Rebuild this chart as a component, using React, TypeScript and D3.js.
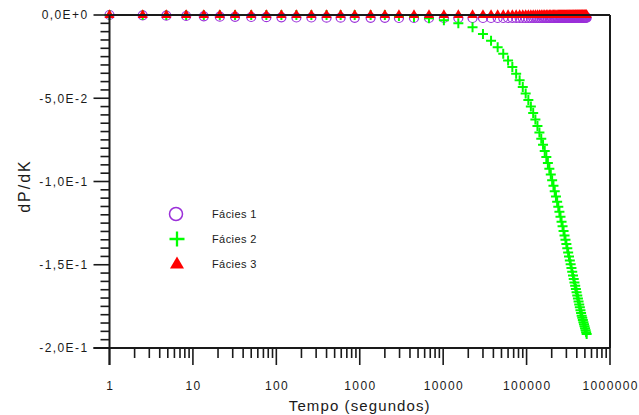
import React from "react";
import * as d3 from "d3";

// tempo (s)
const times = [
  1, 2.5, 4.8, 8.3, 13.5, 21, 32, 50, 76, 115,
  174, 263, 400, 590, 870, 1350, 2000, 2950, 4470, 6760,
  10200, 15200, 22500, 30000, 37500, 45000, 52500, 60000, 67500, 75000,
  82500, 90000, 97500, 105000, 112500, 120000, 127500, 135000, 142500, 150000,
  157500, 165000, 172500, 180000, 187500, 195000, 202500, 210000, 217500, 225000,
  232500, 240000, 247500, 255000, 262500, 270000, 277500, 285000, 292500, 300000,
  307500, 315000, 322500, 330000, 337500, 345000, 352500, 360000, 367500, 375000,
  382500, 390000, 397500, 405000, 412500, 420000, 427500, 435000, 442500, 450000,
  457500, 465000, 472500, 480000, 487500, 495000, 502500, 510000, 517500, 525000,
];

const facies1 = [
  0, -0.0002, -0.0004, -0.0006, -0.0008, -0.001, -0.0011, -0.0012, -0.0013, -0.0014,
  -0.0015, -0.0015, -0.0016, -0.0016, -0.0017, -0.0017, -0.0017, -0.0018, -0.0018, -0.0018,
  -0.0018, -0.0018, -0.0018, -0.0018, -0.0018, -0.0018, -0.0018, -0.0018, -0.0018, -0.0018,
  -0.0018, -0.0018, -0.0018, -0.0018, -0.0018, -0.0018, -0.0018, -0.0018, -0.0018, -0.0018,
  -0.0018, -0.0018, -0.0018, -0.0018, -0.0018, -0.0018, -0.0018, -0.0018, -0.0018, -0.0018,
  -0.0017, -0.0017, -0.0017, -0.0017, -0.0017, -0.0017, -0.0017, -0.0017, -0.0017, -0.0017,
  -0.0017, -0.0017, -0.0017, -0.0017, -0.0017, -0.0017, -0.0017, -0.0017, -0.0017, -0.0017,
  -0.0016, -0.0016, -0.0016, -0.0016, -0.0016, -0.0016, -0.0016, -0.0016, -0.0016, -0.0016,
  -0.0016, -0.0016, -0.0016, -0.0016, -0.0016, -0.0016, -0.0016, -0.0016, -0.0016, -0.0016,
];

const facies2 = [
  0, 0, 0, 0, 0, 0, 0, 0, 0, 0,
  0, 0, 0, 0, 0, 0, 0, -0.0006, -0.0012, -0.002,
  -0.0032, -0.005, -0.0074, -0.0114, -0.0154, -0.0193, -0.0233, -0.0273, -0.0313, -0.0353,
  -0.0392, -0.0432, -0.0472, -0.0511, -0.055, -0.0589, -0.0628, -0.0667, -0.0705, -0.0743,
  -0.078, -0.0817, -0.0853, -0.0889, -0.0924, -0.0958, -0.0992, -0.1025, -0.1058, -0.109,
  -0.1121, -0.1152, -0.1182, -0.1212, -0.1241, -0.1269, -0.1297, -0.1324, -0.135, -0.1376,
  -0.1401, -0.1426, -0.145, -0.1474, -0.1497, -0.152, -0.1542, -0.1564, -0.1585, -0.1606,
  -0.1626, -0.1646, -0.1665, -0.1684, -0.1703, -0.1721, -0.1739, -0.1756, -0.1773, -0.179,
  -0.1806, -0.1819, -0.1832, -0.1845, -0.1857, -0.1869, -0.1881, -0.1893, -0.1905, -0.1916,
];

const facies3 = [
  0, 0, 0, 0, 0, 0, 0, 0, 0, 0,
  0, 0, 0, 0, 0, 0, 0, 0, 0, 0,
  0, 0, 0, 0, 0, 0, 0, 0, 0, 0,
  0, 0, 0, 0, 0, 0, 0, 0, 0, 0,
  0, 0, 0, 0, 0, 0, 0, 0, 0, 0,
  0, 0, 0, 0, 0, 0, 0, 0, 0, 0,
  0, 0, 0, 0, 0, 0, 0, 0, 0, 0,
  0, 0, 0, 0, 0, 0, 0, 0, 0, 0,
  0, 0, 0, 0, 0, 0, 0, 0, 0, 0,
];

const seriesNames = ["Fácies 1", "Fácies 2", "Fácies 3"];
const xTicks = [1, 10, 100, 1000, 10000, 100000, 1000000];
const xTickLabels = ["1", "10", "100", "1000", "10000", "100000", "1000000"];
const yTicks = [0, -0.05, -0.1, -0.15, -0.2];
const yTickLabels = ["0,0E+0", "-5,0E-2", "-1,0E-1", "-1,5E-1", "-2,0E-1"];

const font = "'Liberation Sans', Arial, sans-serif";
const purple = "#9b30d9";
const green = "#00ff00";
const red = "#ff0000";
const ink = "#1a1a1a";

export default function App() {
  const width = 639;
  const height = 415;
  const left = 109.5;
  const right = 610;
  const top = 15;
  const bottom = 348;

  const x = d3.scaleLog().domain([1, 1e6]).range([left, right]);
  const y = d3.scaleLinear().domain([-0.2, 0]).range([bottom, top]);

  const xMinor = x.ticks().filter((t) => !xTicks.includes(t));
  const yMinor = y.ticks(40).filter((t) => !yTicks.some((m) => Math.abs(m - t) < 1e-9));

  const tri = d3.symbol(d3.symbolTriangle, 44)();
  const triBig = d3.symbol(d3.symbolTriangle, 85)();

  return (
    <svg
      width={width}
      height={height}
      style={{ position: "absolute", left: 0, top: 0, background: "#fff" }}
      fontFamily={font}
    >
      {/* markers */}
      <g>
        {times.map((t, i) => (
          <circle
            key={"c" + i}
            cx={x(t)}
            cy={y(facies1[i])}
            r={4.5}
            fill="none"
            stroke={purple}
            strokeWidth={1.2}
          />
        ))}
      </g>
      <g>
        {times.map((t, i) => (
          <path
            key={"p" + i}
            transform={`translate(${x(t)},${y(facies2[i])})`}
            d="M-5,0H5M0,-5V5"
            stroke={green}
            strokeWidth={2}
          />
        ))}
      </g>
      <g>
        {times.map((t, i) => (
          <path
            key={"t" + i}
            transform={`translate(${x(t)},${y(facies3[i])})`}
            d={tri}
            fill={red}
          />
        ))}
      </g>

      {/* frame */}
      <g stroke={ink} fill="none">
        <line x1={left} x2={right} y1={top} y2={top} strokeWidth={2} />
        <line x1={right} x2={right} y1={top} y2={bottom} strokeWidth={2} />
        <line x1={left} x2={left} y1={top} y2={bottom + 17} strokeWidth={2} />
        <line x1={left - 16} x2={right} y1={bottom} y2={bottom} strokeWidth={2} />
      </g>

      {/* y axis */}
      <g stroke={ink} strokeWidth={1.6}>
        {yTicks.map((t) => (
          <line key={t} x1={left - 16} x2={left} y1={y(t)} y2={y(t)} />
        ))}
        {yMinor.map((t) => (
          <line key={t} x1={left - 9} x2={left} y1={y(t)} y2={y(t)} />
        ))}
      </g>
      <g fill={ink} fontSize={12} letterSpacing={1.4} textAnchor="end">
        {yTicks.map((t, i) => (
          <text key={t} x={left - 21} y={y(t)} dy="0.36em">
            {yTickLabels[i]}
          </text>
        ))}
      </g>

      {/* x axis */}
      <g stroke={ink} strokeWidth={1.6}>
        {xTicks.map((t) => (
          <line key={t} x1={x(t)} x2={x(t)} y1={bottom} y2={bottom + 17} />
        ))}
        {xMinor.map((t) => (
          <line key={t} x1={x(t)} x2={x(t)} y1={bottom} y2={bottom + 10} />
        ))}
      </g>
      <g fill={ink} fontSize={12} letterSpacing={1.4} textAnchor="middle">
        {xTicks.map((t, i) => (
          <text key={t} x={x(t) + 0.7} y={389.5}>
            {xTickLabels[i]}
          </text>
        ))}
      </g>

      {/* axis titles */}
      <text
        x={(left + right) / 2}
        y={411}
        textAnchor="middle"
        fontSize={15}
        letterSpacing={1.1}
        fill={ink}
      >
        Tempo (segundos)
      </text>
      <text
        transform={`translate(29.5,186) rotate(-90)`}
        textAnchor="middle"
        fontSize={16}
        letterSpacing={2}
        fill={ink}
      >
        dP/dK
      </text>

      {/* legend */}
      <g>
        <circle cx={176} cy={214} r={6.5} fill="none" stroke={purple} strokeWidth={1.5} />
        <path
          transform="translate(177,239)"
          d="M-7.5,0H7.5M0,-7.5V7.5"
          stroke={green}
          strokeWidth={2.3}
        />
        <path transform="translate(177,264.5)" d={triBig} fill={red} />
        <g fill={ink} fontSize={11} letterSpacing={0.4}>
          {seriesNames.map((n, i) => (
            <text key={n} x={212} y={214 + i * 25} dy="0.36em">
              {n}
            </text>
          ))}
        </g>
      </g>
    </svg>
  );
}
